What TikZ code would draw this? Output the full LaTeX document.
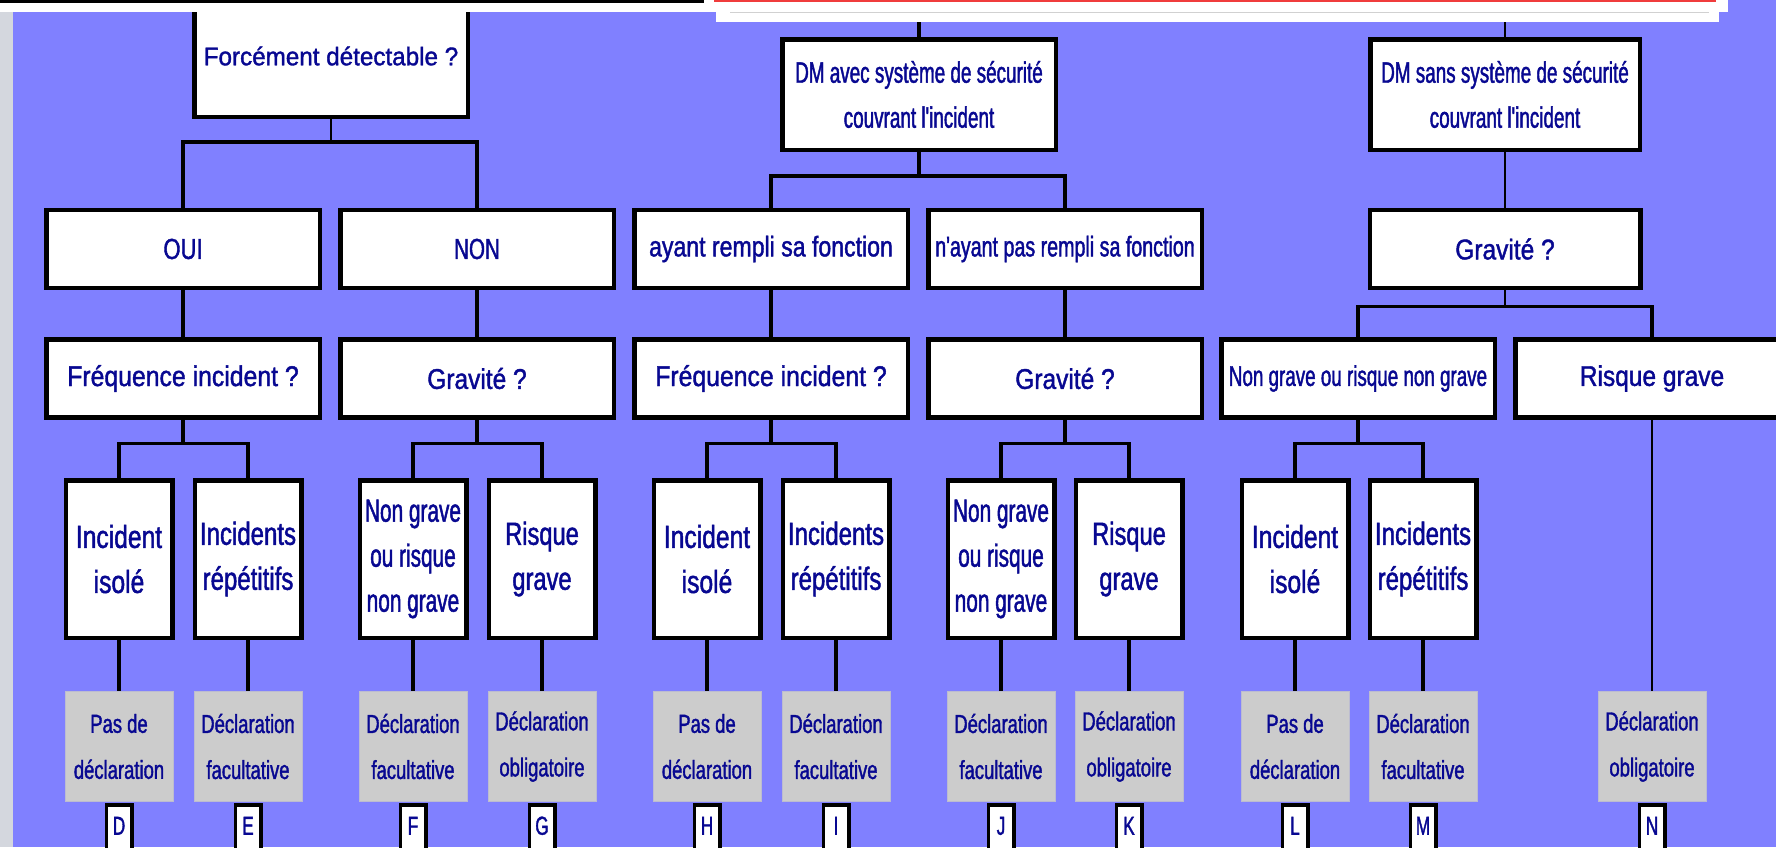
\documentclass[tikz,border=0pt]{standalone}
\usepackage{fontspec}
\setmainfont{Liberation Sans}
\usetikzlibrary{calc}

\definecolor{bgblue}{RGB}{128,128,255}
\definecolor{ink}{RGB}{8,8,145}
\definecolor{strip}{RGB}{212,215,222}
\definecolor{grayfill}{RGB}{204,204,204}
\definecolor{grayedge}{RGB}{188,188,208}
\definecolor{topred}{RGB}{240,60,60}

% condensed sans: #1 horizontal stretch, #2 size, #3 baselineskip
\newcommand\tf[3]{\fontspec{Liberation Sans}[FakeStretch=#1,FakeBold=1.4]\fontsize{#2}{#3}\selectfont}

\tikzset{
  box/.style={draw=black, line width=4.5pt, fill=white, inner sep=0pt, text=ink, align=center},
  wide/.style={box, minimum width=273.5pt, minimum height=78pt},
  tall/.style={box, minimum width=106.5pt, minimum height=157.5pt, font={\tf{0.75}{32}{45}}},
  decl/.style={draw=grayedge, line width=1pt, fill=grayfill, inner sep=0pt, text=ink, align=center,
               minimum width=108pt, minimum height=110pt, font={\tf{0.71}{26}{46}}},
  tag/.style={draw=black, line width=3.5pt, fill=white, inner sep=0pt, text=ink, anchor=north,
              minimum width=25.5pt, minimum height=50pt, text height=18pt, text depth=8pt,
              font={\tf{0.66}{26}{30}}},
  wire/.style={line width=3.5pt, line join=miter},
  wirethin/.style={line width=2pt},
}

\begin{document}
\begin{tikzpicture}[x=1pt,y=-1pt]
\useasboundingbox (0,0) rectangle (1776,847);
\clip (0,0) rectangle (1776,847);
\fill[bgblue] (0,0) rectangle (1776,847);
\fill[strip] (0,0) rectangle (13,847);

% ---- top level
\node[box, minimum width=273.5pt, minimum height=121.5pt, font={\tf{0.95}{25.5}{30}}] (forc) at (331,56) {Forcément détectable ?};
\node[box, minimum width=273.5pt, minimum height=110.5pt, font={\tf{0.64}{29.5}{45}}] (dmavec) at (919,94.5)
  {DM avec système de sécurité\\couvrant l'incident};
\node[box, minimum width=269.5pt, minimum height=110.5pt, font={\tf{0.64}{29.5}{45}}] (dmsans) at (1505,94.5)
  {DM sans système de sécurité\\couvrant l'incident};

% ---- second row
\node[wide, font={\tf{0.76}{29}{34}}] (oui)    at (183,249)  {OUI};
\node[wide, font={\tf{0.71}{29}{34}}] (non)    at (477,249)  {NON};
\node[wide, font={\tf{0.81}{28.5}{34}}] (ayant)  at (771,249)  {ayant rempli sa fonction};
\node[wide, font={\tf{0.69}{28.5}{34}}] (nayant) at (1065,249) {n'ayant pas rempli sa fonction};
\node[wide, minimum width=270.5pt, font={\tf{0.86}{28.5}{34}}] (grav3) at (1505,249) {Gravité ?};

% ---- third row
\node[wide, font={\tf{0.87}{28.5}{34}}] (freq1)   at (183,378.5)  {Fréquence incident ?};
\node[wide, font={\tf{0.86}{28.5}{34}}] (grav1)   at (477,378.5)  {Gravité ?};
\node[wide, font={\tf{0.87}{28.5}{34}}] (freq2)   at (771,378.5)  {Fréquence incident ?};
\node[wide, font={\tf{0.86}{28.5}{34}}] (grav2)   at (1065,378.5) {Gravité ?};
\node[wide, font={\tf{0.66}{28.5}{34}}] (ngrave3) at (1358,378.5) {Non grave ou risque non grave};
\node[wide, font={\tf{0.86}{28.5}{34}}] (rgrave3) at (1652,378.5) {Risque grave};

% ---- fourth row
\node[tall, font={\tf{0.77}{32}{45}}] (inc1) at (119,559)  {Incident\\isolé};
\node[tall]                           (rep1) at (248,559)  {Incidents\\répétitifs};
\node[tall, font={\tf{0.65}{32}{45}}] (ng1)  at (413,559)  {Non grave\\ou risque\\non grave};
\node[tall, font={\tf{0.74}{32}{45}}] (rg1)  at (542,559)  {Risque\\grave};
\node[tall, font={\tf{0.77}{32}{45}}] (inc2) at (707,559)  {Incident\\isolé};
\node[tall]                           (rep2) at (836,559)  {Incidents\\répétitifs};
\node[tall, font={\tf{0.65}{32}{45}}] (ng2)  at (1001,559) {Non grave\\ou risque\\non grave};
\node[tall, font={\tf{0.74}{32}{45}}] (rg2)  at (1129,559) {Risque\\grave};
\node[tall, font={\tf{0.77}{32}{45}}] (inc3) at (1295,559) {Incident\\isolé};
\node[tall]                           (rep3) at (1423,559) {Incidents\\répétitifs};

% ---- outcomes
\node[decl] (dD) at (119,746.5)  {Pas de\\déclaration};
\node[decl] (dE) at (248,746.5)  {Déclaration\\facultative};
\node[decl] (dF) at (413,746.5)  {Déclaration\\facultative};
\node[decl] (dG) at (542,746.5)  {Déclaration\\obligatoire};
\node[decl] (dH) at (707,746.5)  {Pas de\\déclaration};
\node[decl] (dI) at (836,746.5)  {Déclaration\\facultative};
\node[decl] (dJ) at (1001,746.5) {Déclaration\\facultative};
\node[decl] (dK) at (1129,746.5) {Déclaration\\obligatoire};
\node[decl] (dL) at (1295,746.5) {Pas de\\déclaration};
\node[decl] (dM) at (1423,746.5) {Déclaration\\facultative};
\node[decl] (dN) at (1652,746.5) {Déclaration\\obligatoire};

% ---- letter tags
\foreach \x/\l in {119/D,248/E,413/F,542/G,707/H,836/I,1001/J,1129/K,1295/L,1423/M,1652/N}
  \node[tag] (t\l) at (\x,803) {\l};

% ---- header bands
\node[fill=white, inner sep=0pt, anchor=north west, minimum width=716pt, minimum height=12pt] (bandL) at (0,0) {};
\fill[black] (0,0) rectangle (704,2.5);
\node[fill=white, inner sep=0pt, anchor=north west, minimum width=1003pt, minimum height=22pt] (bandR) at (716,0) {};
\fill[white] (1719,0) rectangle (1728,12);
\fill[topred] (714,0) rectangle (1716,2);
\draw[line width=1pt, black!18] (730,12) -- (1709,12);

% ---- bar levels
\coordinate (yb1) at (0,142);
\coordinate (yb2) at (0,176);
\coordinate (yb3) at (0,306.5);
\coordinate (yb4) at (0,443.5);

% ---- connectors: left branch
\draw[wirethin] (forc.south) -- (forc.south |- yb1);
\draw[wire] (oui.north) -- (oui.north |- yb1) -- (non.north |- yb1) -- (non.north);
\draw[wire] (oui) -- (freq1);
\draw[wire] (non) -- (grav1);
\draw[wire] (freq1.south) -- (freq1.south |- yb4);
\draw[wire] (inc1.north) -- (inc1.north |- yb4) -- (rep1.north |- yb4) -- (rep1.north);
\draw[wire] (grav1.south) -- (grav1.south |- yb4);
\draw[wire] (ng1.north) -- (ng1.north |- yb4) -- (rg1.north |- yb4) -- (rg1.north);

% ---- connectors: middle branch
\draw[wire] (bandR.south -| dmavec.north) -- (dmavec.north);
\draw[wire] (dmavec.south) -- (dmavec.south |- yb2);
\draw[wire] (ayant.north) -- (ayant.north |- yb2) -- (nayant.north |- yb2) -- (nayant.north);
\draw[wire] (ayant) -- (freq2);
\draw[wire] (nayant) -- (grav2);
\draw[wire] (freq2.south) -- (freq2.south |- yb4);
\draw[wire] (inc2.north) -- (inc2.north |- yb4) -- (rep2.north |- yb4) -- (rep2.north);
\draw[wire] (grav2.south) -- (grav2.south |- yb4);
\draw[wire] (ng2.north) -- (ng2.north |- yb4) -- (rg2.north |- yb4) -- (rg2.north);

% ---- connectors: right branch
\draw[wirethin] (bandR.south -| dmsans.north) -- (dmsans.north);
\draw[wirethin] (dmsans) -- (grav3);
\draw[wirethin] (grav3.south) -- (grav3.south |- yb3);
\draw[wire] (ngrave3.north) -- (ngrave3.north |- yb3) -- (rgrave3.north |- yb3) -- (rgrave3.north);
\draw[wire] (ngrave3.south) -- (ngrave3.south |- yb4);
\draw[wire] (inc3.north) -- (inc3.north |- yb4) -- (rep3.north |- yb4) -- (rep3.north);
\draw[wirethin] (rgrave3) -- (dN);

% ---- connectors to outcomes
\foreach \a/\b in {inc1/dD,rep1/dE,ng1/dF,rg1/dG,inc2/dH,rep2/dI,ng2/dJ,rg2/dK,inc3/dL,rep3/dM}
  \draw[wire] (\a) -- (\b);
\end{tikzpicture}
\end{document}
